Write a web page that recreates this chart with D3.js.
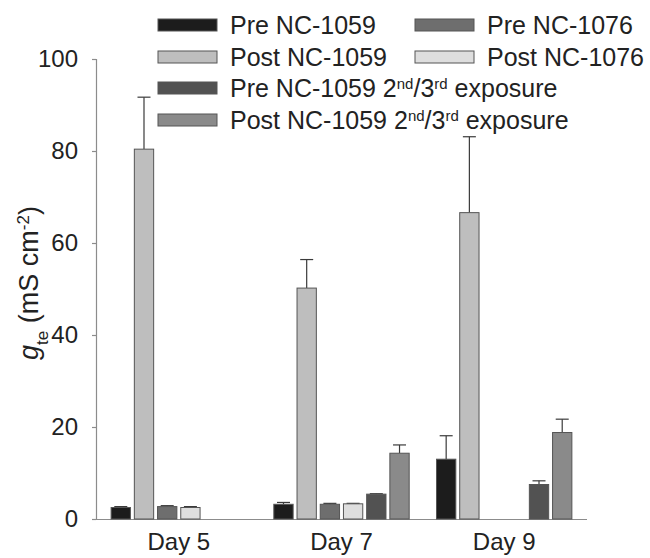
<!DOCTYPE html>
<html>
<head>
<meta charset="utf-8">
<script src="https://cdn.jsdelivr.net/npm/d3@7"></script>
<style>
  html, body { margin: 0; padding: 0; background: #fff; }
  svg { display: block; font-family: "Liberation Sans", Arial, sans-serif; }
</style>
</head>
<body>
<svg id="chart" width="650" height="558"></svg>
<script>
// ---- data ----
const days = ["Day 5", "Day 7", "Day 9"];
const seriesNames = ["Pre NC-1059", "Post NC-1059", "Pre NC-1076", "Post NC-1076",
  "Pre NC-1059 2nd/3rd exposure", "Post NC-1059 2nd/3rd exposure"];
const seriesColors = ["#1c1c1c", "#bebebe", "#6e6e6e", "#dedede", "#525252", "#8a8a8a"];
// values per series, in order of days (null = no bar)
const preNC1059     = [2.5, 3.2, 13.0];
const postNC1059    = [80.4, 50.2, 66.6];
const preNC1076     = [2.7, 3.2, null];
const postNC1076    = [2.5, 3.3, null];
const pre2nd3rd     = [null, 5.4, 7.5];
const post2nd3rd    = [null, 14.3, 18.8];
// upper error (SE) per series
const preNC1059Err  = [0.2, 0.4, 5.1];
const postNC1059Err = [11.3, 6.2, 16.5];
const preNC1076Err  = [0.2, 0.2, null];
const postNC1076Err = [0.2, 0.1, null];
const pre2nd3rdErr  = [null, 0.1, 0.8];
const post2nd3rdErr = [null, 1.8, 2.9];
const yTicks = [0, 20, 40, 60, 80, 100];

const values = [preNC1059, postNC1059, preNC1076, postNC1076, pre2nd3rd, post2nd3rd];
const errors = [preNC1059Err, postNC1059Err, preNC1076Err, postNC1076Err, pre2nd3rdErr, post2nd3rdErr];

// ---- layout ----
const svg = d3.select("#chart");
const x0 = d3.scaleBand().domain(days).range([96, 587]).paddingInner(0.168).paddingOuter(0.093);
const x1 = d3.scaleBand().domain(seriesNames).range([0, x0.bandwidth()]).paddingInner(0.168).paddingOuter(0);
const y = d3.scaleLinear().domain([0, 100]).range([519, 59]);
const axisColor = "#8c8c8c";
const fontSize = 24;

// y axis
const yAxis = svg.append("g").attr("transform", "translate(96,0)")
  .call(d3.axisLeft(y).tickValues(yTicks).tickSize(4).tickPadding(14).tickFormat(d3.format("d")));
yAxis.select(".domain").attr("stroke", axisColor).attr("stroke-width", 1.2);
yAxis.selectAll(".tick line").attr("stroke", axisColor).attr("stroke-width", 1.2);
yAxis.selectAll(".tick text").attr("fill", "#222").style("font-size", fontSize + "px")
  .style("font-family", "Liberation Sans, Arial, sans-serif");

// x axis
const xAxis = svg.append("g").attr("transform", "translate(0,519)")
  .call(d3.axisBottom(x0).tickSize(0).tickPadding(14));
xAxis.select(".domain").attr("stroke", axisColor).attr("stroke-width", 1.2)
  .attr("d", "M92,0.5H587");
xAxis.selectAll(".tick text").attr("fill", "#222").style("font-size", fontSize + "px")
  .style("font-family", "Liberation Sans, Arial, sans-serif");

// bars
const barData = [];
days.forEach((d, di) => {
  seriesNames.forEach((s, si) => {
    const v = values[si][di];
    if (v !== null) barData.push({ day: d, series: s, si, v, e: errors[si][di] });
  });
});

const g = svg.append("g");
// error bars (drawn first, bar covers lower part)
barData.forEach(b => {
  const cx = x0(b.day) + x1(b.series) + x1.bandwidth() / 2;
  const top = y(b.v + b.e);
  g.append("line").attr("x1", cx).attr("x2", cx).attr("y1", y(b.v)).attr("y2", top)
    .attr("stroke", "#3a3a3a").attr("stroke-width", 1.2);
  g.append("line").attr("x1", cx - 6.5).attr("x2", cx + 6.5).attr("y1", top).attr("y2", top)
    .attr("stroke", "#3a3a3a").attr("stroke-width", 1.2);
});
g.selectAll("rect.bar").data(barData).join("rect")
  .attr("class", "bar")
  .attr("x", b => x0(b.day) + x1(b.series))
  .attr("y", b => y(b.v))
  .attr("width", x1.bandwidth())
  .attr("height", b => y(0) - y(b.v))
  .attr("fill", b => seriesColors[b.si])
  .attr("stroke", "#555")
  .attr("stroke-width", 1);

// y axis title
const title = svg.append("text")
  .attr("transform", "translate(38,283) rotate(-90)")
  .attr("text-anchor", "middle")
  .attr("fill", "#222")
  .style("font-size", "27px");
title.append("tspan").style("font-style", "italic").text("g");
title.append("tspan").attr("baseline-shift", "sub").style("font-size", "17px").text("te");
title.append("tspan").text(" (mS cm");
title.append("tspan").attr("baseline-shift", "super").style("font-size", "17px").text("-2");
title.append("tspan").text(")");

// legend
const legendItems = [
  { si: 0, x: 158, row: 0 }, { si: 2, x: 415, row: 0 },
  { si: 1, x: 158, row: 1 }, { si: 3, x: 415, row: 1 },
  { si: 4, x: 158, row: 2 }, { si: 5, x: 158, row: 3 }
];
const rowY = [25, 57, 88, 120];
const lg = svg.append("g");
legendItems.forEach(it => {
  const cy = rowY[it.row];
  lg.append("rect").attr("x", it.x).attr("y", cy - 6).attr("width", 59).attr("height", 12)
    .attr("fill", seriesColors[it.si]).attr("stroke", "#555").attr("stroke-width", 1);
  const t = lg.append("text").attr("x", it.x + 72).attr("y", cy).attr("dy", "0.35em")
    .attr("fill", "#222").style("font-size", "25px");
  const name = seriesNames[it.si];
  const m = name.match(/^(.*) 2nd\/3rd (.*)$/);
  if (m) {
    t.append("tspan").text(m[1] + " 2");
    t.append("tspan").attr("baseline-shift", "super").style("font-size", "15px").text("nd");
    t.append("tspan").text("/3");
    t.append("tspan").attr("baseline-shift", "super").style("font-size", "15px").text("rd");
    t.append("tspan").text(" " + m[2]);
  } else {
    t.text(name);
  }
});
</script>
</body>
</html>
